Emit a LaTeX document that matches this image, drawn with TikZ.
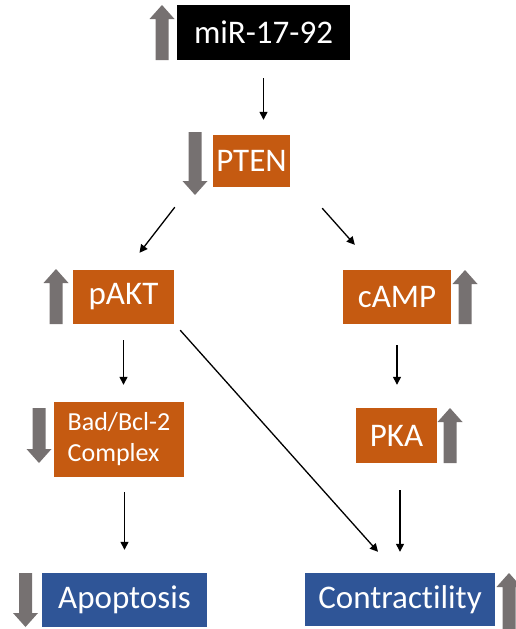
\documentclass[tikz,border=0pt]{standalone}
\usepackage{fontspec}
\setmainfont{Carlito}[Ligatures={NoCommon}]
\usetikzlibrary{arrows.meta,calc}
\definecolor{boxorange}{HTML}{C55A11}
\definecolor{boxblue}{HTML}{2F5597}
\definecolor{arrgray}{HTML}{767171}
\newcommand{\bigup}[3]{% cx, top, bottom (y downwards)
  \fill[arrgray] (#1-6.5,#3) -- (#1-6.5,#2+14) -- (#1-12.5,#2+14) -- (#1,#2) -- (#1+12.5,#2+14) -- (#1+6.5,#2+14) -- (#1+6.5,#3) -- cycle;}
\newcommand{\bigdown}[3]{% cx, top, bottom (y downwards)
  \fill[arrgray] (#1-6.5,#2) -- (#1-6.5,#3-14) -- (#1-12.5,#3-14) -- (#1,#3) -- (#1+12.5,#3-14) -- (#1+6.5,#3-14) -- (#1+6.5,#2) -- cycle;}
\tikzset{
  box/.style={rectangle, inner sep=0pt, text=white, font=\fontsize{33}{36}\selectfont},
  obox/.style={box, fill=boxorange},
  bbox/.style={box, fill=boxblue},
  kbox/.style={box, fill=black},
  conn/.style={draw=black, line width=1.3pt, -{Triangle[length=8pt,width=8pt]}},
}
\begin{document}
\begin{tikzpicture}[x=1pt,y=-1pt]
\useasboundingbox (0,0) rectangle (515,629);
% boxes
\node[kbox, minimum width=173pt, minimum height=55pt] (mir) at (263.5,32.5) {miR-17-92};
\node[obox, minimum width=77pt, minimum height=52pt] (pten) at (251.5,161) {PTEN};
\node[obox, minimum width=101pt, minimum height=54pt] (pakt) at (123.5,297) {pAKT};
\node[obox, minimum width=108pt, minimum height=54pt] (camp) at (397,297) {cAMP};
\node[obox, minimum width=130pt, minimum height=75pt, align=left, font=\fontsize{26}{31}\selectfont] (bad) at (119,439.5) {Bad/Bcl-2\\Complex};
\node[obox, minimum width=81pt, minimum height=55pt] (pka) at (396.5,435.5) {PKA};
\node[bbox, minimum width=165pt, minimum height=54pt] (apop) at (124.5,600) {Apoptosis};
\node[bbox, minimum width=190pt, minimum height=53pt] (contr) at (400,599.5) {Contractility};
% block arrows
\bigup{162}{5}{60}
\bigdown{195}{132}{195}
\bigup{56}{269}{324}
\bigup{465}{270}{324}
\bigdown{39}{408}{463}
\bigup{450}{408}{463}
\bigdown{25.5}{573}{627}
\bigup{509}{573}{629}
% connectors
\draw[conn, shorten <=18pt, shorten >=15pt] (mir.south) -- (mir.south |- pten.north);
\draw[conn] ($(pten.south west)+(-38,20)$) -- ($(pakt.north)+(16,-17)$);
\draw[conn] ($(pten.south east)+(32,21)$) -- ($(camp.north west)+(12,-25)$);
\draw[conn, shorten <=16pt, shorten >=17pt] (pakt.south) -- (pakt.south |- bad.north);
\draw[conn, shorten <=21pt, shorten >=23pt] (camp.south) -- (camp.south |- pka.north);
\draw[conn] ($(pakt.south east)+(6,6)$) -- ($(contr.north)+(-22,-21)$);
\draw[conn, shorten <=27pt, shorten >=21pt] (contr.north |- pka.south) -- (contr.north);
\draw[conn, shorten <=15pt, shorten >=23pt] (apop.north |- bad.south) -- (apop.north);
\end{tikzpicture}
\end{document}
